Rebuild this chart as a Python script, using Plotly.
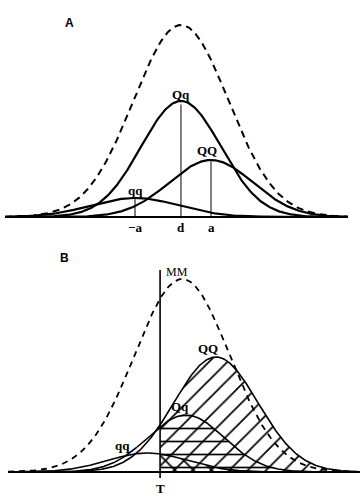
import numpy as np
import plotly.graph_objects as go

# ---------------- data (x in units of a, y in relative height units) ----------------
GENOTYPES = ["qq", "Qq", "QQ"]

# Panel A
A_MEANS = [-1.0, 0.21, 1.0]
A_HEIGHTS = [19, 116, 57]
A_SDS = [1.15, 1.05, 1.1]
A_TOTAL = [0.21, 192, 1.25]          # mean, height, sd of dashed total distribution
A_TICK_LABELS = ["\u2212a", "d", "a"]
A_XLIM = [-4.42, 4.6]

# Panel B
B_MEANS = [-0.68, 0.34, 1.13]
B_HEIGHTS = [19, 57, 115]
B_SDS = [1.05, 1.0, 1.1]
B_TOTAL = [0.24, 193, 1.25]
B_THRESHOLD = -0.34
B_XLIM = [-4.34, 4.92]
B_PATTERNS = ["\\", "-", "/"]

PX = 38.0  # pixels per x unit (layout)


def curve(m, h, s, lo, hi, n=400):
    x = np.linspace(lo, hi, n)
    return x, h * np.exp(-0.5 * ((x - m) / s) ** 2)


fig = go.Figure()
SERIF = "Liberation Serif"

# ---------------- Panel A ----------------
xa, ya = "x", "y"
fig.add_trace(go.Scatter(x=A_XLIM, y=[0, 0], mode="lines", line=dict(color="black", width=2.2),
                         xaxis=xa, yaxis=ya, hoverinfo="skip"))
x, y = curve(*A_TOTAL, A_XLIM[0], A_XLIM[1])
fig.add_trace(go.Scatter(x=x, y=y, mode="lines", line=dict(color="black", width=2, dash="7px,5px"),
                         xaxis=xa, yaxis=ya, hoverinfo="skip"))
for g, m, h, s in zip(GENOTYPES, A_MEANS, A_HEIGHTS, A_SDS):
    x, y = curve(m, h, s, A_XLIM[0], A_XLIM[1])
    fig.add_trace(go.Scatter(x=x, y=y, mode="lines", line=dict(color="black", width=2.2),
                             xaxis=xa, yaxis=ya, hoverinfo="skip"))
    fig.add_trace(go.Scatter(x=[m, m], y=[0, h * 0.97], mode="lines", line=dict(color="black", width=1),
                             xaxis=xa, yaxis=ya, hoverinfo="skip"))

# ---------------- Panel B ----------------
xb, yb = "x2", "y2"
fig.add_trace(go.Scatter(x=B_XLIM, y=[0, 0], mode="lines", line=dict(color="black", width=2),
                         xaxis=xb, yaxis=yb, hoverinfo="skip"))
for m, h, s, pat in zip(B_MEANS, B_HEIGHTS, B_SDS, B_PATTERNS):
    x, y = curve(m, h, s, B_THRESHOLD, B_XLIM[1])
    fig.add_trace(go.Scatter(x=x, y=y, mode="lines", line=dict(width=0), fill="tozeroy",
                             fillcolor="rgba(255,255,255,0)",
                             fillpattern=dict(shape=pat, fgcolor="black", bgcolor="rgba(0,0,0,0)",
                                              fgopacity=1, size=13, solidity=0.13),
                             xaxis=xb, yaxis=yb, hoverinfo="skip"))
x, y = curve(*B_TOTAL, B_XLIM[0], B_XLIM[1])
fig.add_trace(go.Scatter(x=x, y=y, mode="lines", line=dict(color="black", width=1.8, dash="6px,5px"),
                         xaxis=xb, yaxis=yb, hoverinfo="skip"))
for g, m, h, s in zip(GENOTYPES, B_MEANS, B_HEIGHTS, B_SDS):
    x, y = curve(m, h, s, B_XLIM[0], B_XLIM[1])
    fig.add_trace(go.Scatter(x=x, y=y, mode="lines", line=dict(color="black", width=1.6),
                             xaxis=xb, yaxis=yb, hoverinfo="skip"))
fig.add_trace(go.Scatter(x=[B_THRESHOLD, B_THRESHOLD], y=[-6, 202], mode="lines",
                         line=dict(color="black", width=1.6), xaxis=xb, yaxis=yb, hoverinfo="skip"))

# ---------------- annotations ----------------
ann = []
lab_font = dict(family=SERIF, size=13, color="black")
a_off = {"qq": (0, 8), "Qq": (0, 7), "QQ": (-4, 10)}
for g, m, h in zip(GENOTYPES, A_MEANS, A_HEIGHTS):
    dx, dy = a_off[g]
    ann.append(dict(x=m + dx / PX, y=h + dy, xref="x", yref="y", text="<b>%s</b>" % g,
                    showarrow=False, font=lab_font, yanchor="middle"))
for t, m in zip(A_TICK_LABELS, A_MEANS):
    ann.append(dict(x=m, y=-10, xref="x", yref="y", text="<b>%s</b>" % t, showarrow=False,
                    font=lab_font, yanchor="middle"))
ann.append(dict(x=0.175, y=1 - 23 / 496, xref="paper", yref="paper", text="<b>A</b>", showarrow=False,
                font=dict(family="Liberation Sans", size=12, color="black"), yanchor="middle"))

b_off = {"qq": (-25, 8), "Qq": (-6, 9), "QQ": (-8, 9)}
for g, m, h in zip(GENOTYPES, B_MEANS, B_HEIGHTS):
    dx, dy = b_off[g]
    ann.append(dict(x=m + dx / PX, y=h + dy, xref="x2", yref="y2", text="<b>%s</b>" % g,
                    showarrow=False, font=lab_font, yanchor="middle"))
ann.append(dict(x=B_THRESHOLD + 17 / PX, y=200, xref="x2", yref="y2", text="MM", showarrow=False,
                font=dict(family=SERIF, size=12, color="black"), yanchor="middle"))
ann.append(dict(x=B_THRESHOLD, y=-16, xref="x2", yref="y2", text="<b>T</b>", showarrow=False,
                font=lab_font, yanchor="middle"))
ann.append(dict(x=0.161, y=1 - 258 / 496, xref="paper", yref="paper", text="<b>B</b>", showarrow=False,
                font=dict(family="Liberation Sans", size=12, color="black"), yanchor="middle"))

split = 1 - 240 / 496
xrange = [-173 / PX, 187 / PX]
ax = dict(visible=False, showgrid=False, zeroline=False, fixedrange=True)
fig.update_layout(
    width=360, height=496, margin=dict(l=0, r=0, t=0, b=0),
    paper_bgcolor="white", plot_bgcolor="white", showlegend=False,
    xaxis=dict(ax, range=xrange, domain=[0, 1], anchor="y"),
    yaxis=dict(ax, range=[-23, 217], domain=[split, 1], anchor="x"),
    xaxis2=dict(ax, range=xrange, domain=[0, 1], anchor="y2"),
    yaxis2=dict(ax, range=[-24, 232], domain=[0, split], anchor="x2"),
    annotations=ann,
)

fig.write_html("out.html")
